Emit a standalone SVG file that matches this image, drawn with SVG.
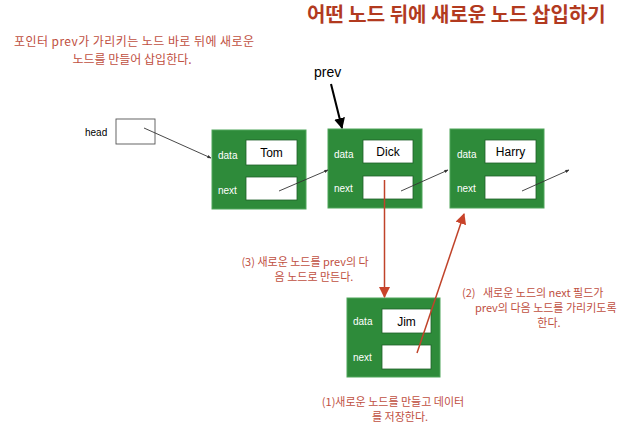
<svg xmlns="http://www.w3.org/2000/svg" width="633" height="428" viewBox="0 0 633 428">
<style>
.kr{font-family:"Noto Sans CJK KR","Noto Sans",sans-serif}
.title{font-size:20px;font-weight:bold;fill:#B23A1F}
.desc{font-size:12px;fill:#C0503F}
.note{font-size:11px;fill:#C0503F}
.node{fill:#2E8B3A;stroke:#4FA55A;stroke-width:1}
.box{fill:#fff;stroke:#1f5f28;stroke-width:0.8}
.lbl{font-family:"Liberation Sans",Arial,sans-serif;font-size:10px;fill:#fff}
.val{font-family:"Liberation Sans",Arial,sans-serif;font-size:12px;fill:#000;text-anchor:middle}
.lnk{stroke:#333;stroke-width:0.9;fill:none}
.red{stroke:#C0432A;stroke-width:1.5;fill:none}
</style>
<defs>
<marker id="sm" viewBox="0 0 10 10" refX="9" refY="5" markerWidth="4" markerHeight="4" orient="auto" markerUnits="userSpaceOnUse">
<path d="M0,1 L10,5 L0,9 z" fill="#333"/>
</marker>
<marker id="big" viewBox="0 0 10 10" refX="9" refY="5" markerWidth="11" markerHeight="11" orient="auto" markerUnits="userSpaceOnUse">
<path d="M0,0 L10,5 L0,10 z" fill="#000"/>
</marker>
<marker id="redh" viewBox="0 0 10 10" refX="9" refY="5" markerWidth="11" markerHeight="11" orient="auto" markerUnits="userSpaceOnUse">
<path d="M0,0 L10,5 L0,10 z" fill="#C8432A"/>
</marker>
</defs>

<text class="kr title" x="307" y="22">어떤 노드 뒤에 새로운 노드 삽입하기</text>
<text class="kr desc" x="134" y="46" text-anchor="middle" textLength="240">포인터 prev가 가리키는 노드 바로 뒤에 새로운</text>
<text class="kr desc" x="132" y="64" text-anchor="middle">노드를 만들어 삽입한다.</text>

<g id="head">
<text x="85" y="136" style="font-family:'Liberation Sans',Arial,sans-serif;font-size:10px;fill:#000">head</text>
<rect x="116" y="119" width="39" height="25" fill="#fff" stroke="#555" stroke-width="0.9"/>
</g>

<g id="prev">
<text x="314" y="77" style="font-family:'Liberation Sans',Arial,sans-serif;font-size:14px;fill:#000">prev</text>
</g>

<g id="node-tom">
<rect class="node" x="212" y="130" width="94" height="79"/>
<text class="lbl" x="218" y="159">data</text>
<rect class="box" x="246" y="140" width="51" height="25"/>
<text class="val" x="271.5" y="157">Tom</text>
<text class="lbl" x="218" y="194">next</text>
<rect class="box" x="246" y="177" width="51" height="23"/>
</g>

<g id="node-dick">
<rect class="node" x="328" y="129" width="94" height="79"/>
<text class="lbl" x="334" y="158">data</text>
<rect class="box" x="363" y="140" width="50" height="23"/>
<text class="val" x="388" y="156">Dick</text>
<text class="lbl" x="334" y="192">next</text>
<rect class="box" x="363" y="176" width="50" height="23"/>
</g>

<g id="node-harry">
<rect class="node" x="450" y="129" width="94" height="79"/>
<text class="lbl" x="457" y="158">data</text>
<rect class="box" x="485" y="140" width="51" height="23"/>
<text class="val" x="510.5" y="156">Harry</text>
<text class="lbl" x="457" y="192">next</text>
<rect class="box" x="485" y="176" width="51" height="23"/>
</g>

<g id="node-jim">
<rect class="node" x="347" y="298" width="93" height="79"/>
<text class="lbl" x="353" y="325">data</text>
<rect class="box" x="382" y="309" width="49" height="24"/>
<text class="val" x="406.5" y="326">Jim</text>
<text class="lbl" x="353" y="361">next</text>
<rect class="box" x="382" y="345" width="49" height="24"/>
</g>

<g id="connectors">
<line class="lnk" x1="144" y1="128" x2="211" y2="158" marker-end="url(#sm)"/>
<line class="lnk" x1="279" y1="191" x2="328" y2="170" marker-end="url(#sm)"/>
<line class="lnk" x1="401" y1="191" x2="448" y2="170" marker-end="url(#sm)"/>
<line class="lnk" x1="522" y1="191" x2="569" y2="170" marker-end="url(#sm)"/>
<line x1="331" y1="84" x2="342" y2="128" stroke="#000" stroke-width="2" marker-end="url(#big)"/>
<line class="red" x1="384.5" y1="180" x2="384.5" y2="297" marker-end="url(#redh)"/>
<line class="red" x1="417" y1="353" x2="464" y2="214" marker-end="url(#redh)"/>
</g>

<text class="kr note" x="305" y="266" text-anchor="middle">(3) 새로운 노드를 prev의 다</text>
<text class="kr note" x="314" y="281" text-anchor="middle">음 노드로 만든다.</text>

<text class="kr note" x="462" y="297" xml:space="preserve">(2)   새로운 노드의 next 필드가</text>
<text class="kr note" x="475" y="312">prev의 다음 노드를 가리키도록</text>
<text class="kr note" x="549" y="327" text-anchor="middle">한다.</text>

<text class="kr note" x="393" y="406" text-anchor="middle">(1)새로운 노드를 만들고 데이터</text>
<text class="kr note" x="400" y="421" text-anchor="middle">를 저장한다.</text>
</svg>
